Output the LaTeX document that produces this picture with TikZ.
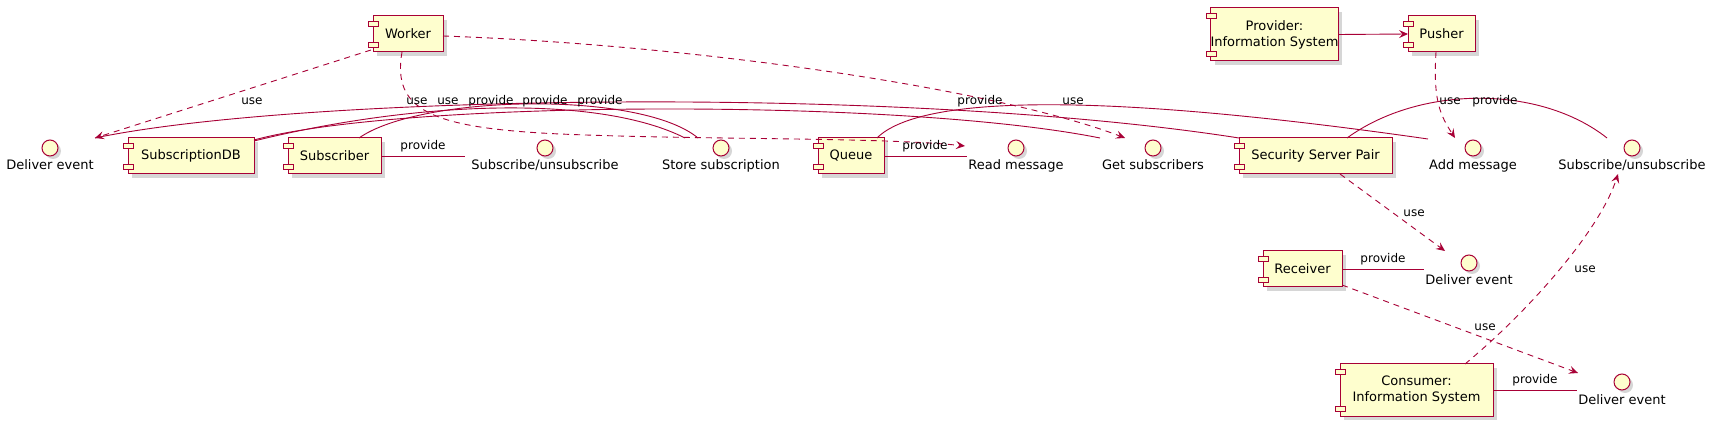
\documentclass[tikz,border=0pt]{standalone}
\usepackage{fontspec}
\setmainfont{DejaVu Sans}
\usetikzlibrary{arrows.meta}
\definecolor{umlred}{HTML}{A80036}
\definecolor{umlfill}{HTML}{FEFECE}
\tikzset{
 compbox/.style={draw=umlred, fill=umlfill, line width=1pt, inner sep=0pt, outer sep=0pt, align=center, font=\fontsize{13}{16}\selectfont},
 iconrect/.style={draw=umlred, fill=umlfill, line width=0.9pt},
 shadowfill/.style={fill=black, opacity=0.16},
 intf/.style={circle, draw=umlred, fill=umlfill, line width=1pt, minimum size=16pt, inner sep=0pt, outer sep=0pt},
 intflabel/.style={font=\fontsize{13}{16}\selectfont, anchor=base, inner sep=0pt},
 lbl/.style={font=\fontsize{12}{14}\selectfont, inner sep=0pt, anchor=base},
 link/.style={draw=umlred, line width=0.9pt},
 uses/.style={link, dash pattern=on 6pt off 5pt, -{Stealth[length=9pt,width=8pt,inset=3.5pt]}},
 arr/.style={link, -{Stealth[length=9pt,width=8pt,inset=3.5pt]}},
}
\newcommand\umlcomp[6]{%
 \fill[shadowfill] (#2+4,#3+4) rectangle (#4+4,#5+4);
 \node[compbox, minimum width={(#4-#2)*1pt}, minimum height={(#5-#3)*1pt}] (#1) at ({(#2+#4)/2},{(#3+#5)/2}) {#6};
 \draw[iconrect] (#2-5,#3+5) rectangle (#2+5,#3+10);
 \draw[iconrect] (#2-5,#5-10) rectangle (#2+5,#5-5);
}
\newcommand\umlintf[5]{%
 \fill[shadowfill] (#2+3,#3+3) circle[radius=8];
 \node[intf] (#1) at (#2,#3) {};
 \node[intflabel] (#1-l) at (#2,#5) {#4};
}
\begin{document}
\begin{tikzpicture}[x=1pt,y=-1pt]
\useasboundingbox (0,0) rectangle (1724,427);
\fill[white] (0,0) rectangle (1724,427);

% components
\umlcomp{W}{373}{16}{443}{52}{Worker}
\umlcomp{SDB}{128}{138}{254}{174}{SubscriptionDB}
\umlcomp{SUBR}{288}{138}{381}{174}{Subscriber}
\umlcomp{Q}{818}{138}{884}{174}{Queue}
\umlcomp{SSP}{1239}{138}{1392}{174}{Security Server Pair}
\umlcomp{PROV}{1211}{8}{1338}{61}{Provider:\\Information System}
\umlcomp{PUSH}{1408}{16}{1475}{52}{Pusher}
\umlcomp{RECV}{1263}{251}{1342}{287}{Receiver}
\umlcomp{CONS}{1340}{364}{1493}{416}{Consumer:\\Information System}

% interfaces
\umlintf{DEL}{50}{148}{Deliver event}{170}
\umlintf{SUL}{545}{148}{Subscribe/unsubscribe}{170}
\umlintf{SS}{721}{148}{Store subscription}{170}
\umlintf{RM}{1016}{148}{Read message}{170}
\umlintf{GS}{1153}{148}{Get subscribers}{170}
\umlintf{AM}{1473}{148}{Add message}{170}
\umlintf{SUR}{1632}{148}{Subscribe/unsubscribe}{170}
\umlintf{DEM}{1469}{263}{Deliver event}{285}
\umlintf{DEB}{1622}{382}{Deliver event}{404}

% attach points
\coordinate (wdel) at (371,50);
\coordinate (deltip) at (95,138);
\coordinate (wrm) at (402,52);
\coordinate (rmmid) at (560,134);
\coordinate (rmtip) at (965,146);
\coordinate (wgs) at (443,36);
\coordinate (gstip) at (1125,138);
\coordinate (pam) at (1436,52);
\coordinate (amtip) at (1455,138);
\coordinate (sspdem) at (1340,174);
\coordinate (demtip) at (1445,251);
\coordinate (demL) at (1424,269);
\coordinate (recvdeb) at (1342,285);
\coordinate (debtip) at (1578,373);
\coordinate (debL) at (1577,390);
\coordinate (consur) at (1465,364);
\coordinate (surtip) at (1618,174);
\coordinate (sspsur) at (1347,138);
\coordinate (surL) at (1607,138);
\coordinate (rmL) at (967,156);
\coordinate (sulL) at (465,156);
\coordinate (qam) at (877,138);
\coordinate (amL) at (1428,139);
\coordinate (gsL) at (1100,138);
\coordinate (sdbA) at (254,140);
\coordinate (sdbB) at (254,141);
\coordinate (ssA) at (685,138);
\coordinate (ssB) at (698,138);
\coordinate (subrt) at (359,138);

% solid links
\draw[link] (deltip) .. controls (300,95) and (900,85) .. (SSP.north west);
\draw[link] (sdbA) .. controls (400,100) and (900,98) .. (gsL);
\draw[link] (sdbB) .. controls (420,100) and (600,95) .. (ssA);
\draw[link] (subrt) .. controls (420,95) and (640,90) .. (ssB);
\draw[link] (qam) .. controls (920,95) and (1100,92) .. (amL);
\draw[link] (sspsur) .. controls (1420,85) and (1540,85) .. (surL);
\draw[link] (Q.east) -- (rmL);
\draw[link] (SUBR.east) -- (sulL);
\draw[link] (RECV.east) -- (demL);
\draw[link] (CONS.east) -- (debL);
\draw[arr] (PROV.east) -- (PUSH.west);

% dashed uses
\draw[uses] (wdel) -- (deltip);
\draw[uses] (wrm) .. controls (392,110) and (430,128) .. (rmmid) .. controls (700,140) and (880,137) .. (rmtip);
\draw[uses] (wgs) .. controls (700,45) and (1000,90) .. (gstip);
\draw[uses] (pam) .. controls (1433,100) and (1440,115) .. (amtip);
\draw[uses] (sspdem) -- (demtip);
\draw[uses] (recvdeb) -- (debtip);
\draw[uses] (consur) .. controls (1530,310) and (1600,230) .. (surtip);

% labels
\node[lbl] (l1) at (252,105) {use};
\node[lbl] (l2) at (417,105) {use};
\node[lbl] (l3) at (448,105) {use};
\node[lbl] (l4) at (491,105) {provide};
\node[lbl] (l5) at (545,105) {provide};
\node[lbl] (l6) at (600,105) {provide};
\node[lbl] (l7) at (980,105) {provide};
\node[lbl] (l8) at (1073,105) {use};
\node[lbl] (l9) at (1450,105) {use};
\node[lbl] (l10) at (1495,105) {provide};
\node[lbl] (l11) at (423,150) {provide};
\node[lbl] (l12) at (925,150) {provide};
\node[lbl] (l13) at (1414,217) {use};
\node[lbl] (l14) at (1383,263) {provide};
\node[lbl] (l15) at (1585,273) {use};
\node[lbl] (l16) at (1485,331) {use};
\node[lbl] (l17) at (1535,384) {provide};
\end{tikzpicture}
\end{document}
